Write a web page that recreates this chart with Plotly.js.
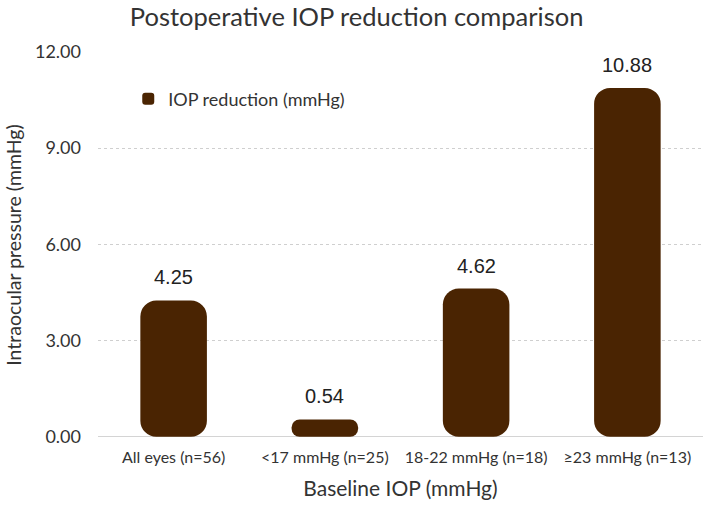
<!DOCTYPE html>
<html>
<head>
<meta charset="utf-8">
<script src="https://cdn.plot.ly/plotly-3.0.1.min.js"></script>
<style>html,body{margin:0;padding:0;background:#fff;}#chart{width:709px;height:507px;}</style>
</head>
<body>
<div id="chart"></div>
<script>
const categories = ["All eyes (n=56)", "<17 mmHg (n=25)", "18-22 mmHg (n=18)", "≥23 mmHg (n=13)"];
const iopReduction = [4.25, 0.54, 4.62, 10.88];
const seriesName = "IOP reduction (mmHg)";
const yTickVals = [0, 3, 6, 9, 12];
const yTickText = ["0.00", "3.00", "6.00", "9.00", "12.00"];
const yMin = -0.04;
const yMax = 12;

const barColor = "#4a2402";
// Bars are drawn on a hidden copy of the y axis shifted by yMax: with an explicit
// non-zero base in overlay mode Plotly rounds both ends of each bar, as in the reference.
const axisOffset = yMax;
const barBase = iopReduction.map(() => axisOffset);

const traces = [
  {
    type: "bar", x: categories, y: iopReduction, base: barBase, yaxis: "y2", name: seriesName,
    width: 0.44, marker: {color: barColor, line: {color: barColor, width: 0}},
    hoverinfo: "skip", showlegend: true
  }
];

const annotations = categories.map((c, i) => ({
  x: c, y: iopReduction[i], xref: "x", yref: "y",
  text: iopReduction[i].toFixed(2), showarrow: false,
  yanchor: "bottom", yshift: 10,
  font: {family: "Liberation Sans, Arial, sans-serif", size: 20, color: "#222"}
}));

const layout = {
  width: 709, height: 507,
  margin: {l: 98, r: 6, t: 52, b: 69},
  paper_bgcolor: "#fff", plot_bgcolor: "#fff",
  barmode: "overlay",
  barcornerradius: 16,
  font: {family: "Lato, 'Open Sans', sans-serif", color: "#333"},
  title: {text: "Postoperative IOP reduction comparison", x: 0.503, xref: "container", xanchor: "center",
          y: 0.967, yanchor: "middle",
          font: {family: "Lato, sans-serif", size: 25.5, color: "#333"}},
  xaxis: {
    type: "category", range: [-0.5, 3.5],
    showgrid: false, showline: false, ticks: "", ticklabelstandoff: 8,
    tickfont: {size: 16, color: "#333"},
    title: {text: "Baseline IOP (mmHg)", font: {size: 21, color: "#333"}, standoff: 16}
  },
  yaxis: {
    range: [yMin, yMax], tickvals: yTickVals, ticktext: yTickText,
    showgrid: true, gridcolor: "#cfcfcf", griddash: "dot", gridwidth: 1,
    zeroline: true, zerolinecolor: "#d4d4d4", zerolinewidth: 1.5,
    showline: false, ticks: "", ticklabelstandoff: 16,
    tickfont: {size: 18, color: "#333"},
    title: {text: "Intraocular pressure (mmHg)", font: {size: 19.5, color: "#333"}, standoff: 8}
  },
  yaxis2: {
    overlaying: "y", range: [axisOffset + yMin, axisOffset + yMax], visible: false,
    showgrid: false, zeroline: false
  },
  legend: {
    x: 0.05, y: 0.878, xanchor: "left", yanchor: "middle",
    bgcolor: "rgba(0,0,0,0)", font: {size: 18, color: "#333"}
  },
  annotations: annotations,
  showlegend: true
};

Plotly.newPlot("chart", traces, layout, {displayModeBar: false, staticPlot: true});
</script>
</body>
</html>
